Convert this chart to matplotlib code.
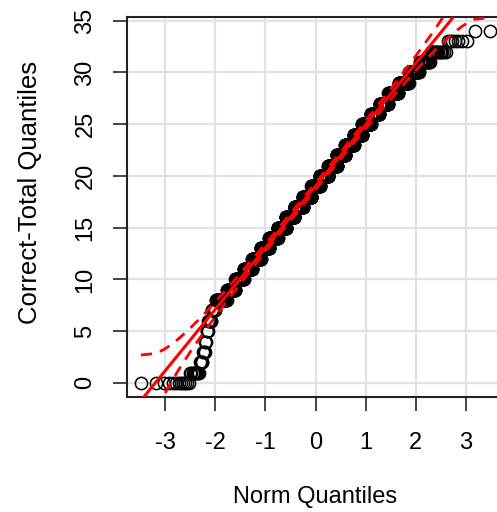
import numpy as np
import matplotlib.pyplot as plt
from statistics import NormalDist

# number of people at each correct-total score (0..34)
scores = list(range(0, 35))
counts = [12, 9, 4, 3, 2, 3, 6, 8, 32, 34, 44, 56, 70, 84, 98, 111, 122, 132,
          138, 139, 138, 132, 122, 111, 98, 84, 70, 58, 50, 36, 25, 17, 13, 7, 2]
x_ticks = [-3, -2, -1, 0, 1, 2, 3]
y_ticks = [0, 5, 10, 15, 20, 25, 30, 35]

plt.rcParams['font.family'] = ['Liberation Sans', 'DejaVu Sans']
plt.rcParams['axes.unicode_minus'] = False

nd = NormalDist()
y = np.repeat(scores, counts).astype(float)
n = len(y)
P = (np.arange(1, n + 1) - 0.5) / n
z = np.array([nd.inv_cdf(p) for p in P])

# robust line through the quartiles + 95% pointwise envelope (as car::qqPlot)
q1, q3 = np.quantile(y, [0.25, 0.75])
slope = (q3 - q1) / (nd.inv_cdf(0.75) - nd.inv_cdf(0.25))
icpt = q1 - slope * nd.inv_cdf(0.25)
dens = np.array([nd.pdf(v) for v in z])
se = slope / dens * np.sqrt(P * (1 - P) / n)
fit = icpt + slope * z
upper = fit + 1.96 * se
lower = fit - 1.96 * se

fig = plt.figure(figsize=(4.97, 5.12), dpi=100)
ax = fig.add_axes([127 / 497, 115 / 512, 377 / 497, 380 / 512])

xr = z.max() - z.min()
xlim = (z.min() - 0.04 * xr, z.max() + 0.04 * xr)
yr = y.max() - y.min()
ylim = (y.min() - 0.04 * yr, y.max() + 0.04 * yr)

ax.set_xticks(x_ticks)
ax.set_yticks(y_ticks)
ax.grid(color="#e2e2e2", linewidth=1.6)
ax.set_axisbelow(True)

ax.plot(z, y, 'o', mfc='none', mec='black', ms=8.8, mew=1.1, zorder=2)
xx = np.array(xlim)
ax.plot(xx, icpt + slope * xx, color="red", linewidth=2.2, zorder=3)
ax.plot(z, upper, color="red", linewidth=2.0, dashes=(4, 3), zorder=3)
ax.plot(z, lower, color="red", linewidth=2.0, dashes=(4, 3), zorder=3)

ax.set_xlim(xlim)
ax.set_ylim(ylim)

for s in ax.spines.values():
    s.set_linewidth(1.5)
    s.set_color("#222222")
ax.tick_params(length=10, width=1.4, color="#444444", labelsize=17)
ax.tick_params(axis='x', pad=15)
ax.tick_params(axis='y', pad=12)
for lab in ax.get_yticklabels():
    lab.set_rotation(90)
    lab.set_va("center")

ax.set_xlabel("Norm Quantiles", fontsize=17)
ax.set_ylabel("Correct-Total Quantiles", fontsize=18.5)
ax.xaxis.set_label_coords((315 - 127) / 377, -(497 - 397) / 380)
ax.yaxis.set_label_coords(-(127 - 30) / 377, (397 - 192) / 380)
ax.xaxis.label.set_va("center")
ax.yaxis.label.set_va("center")

fig.savefig("out.png", dpi=100)
